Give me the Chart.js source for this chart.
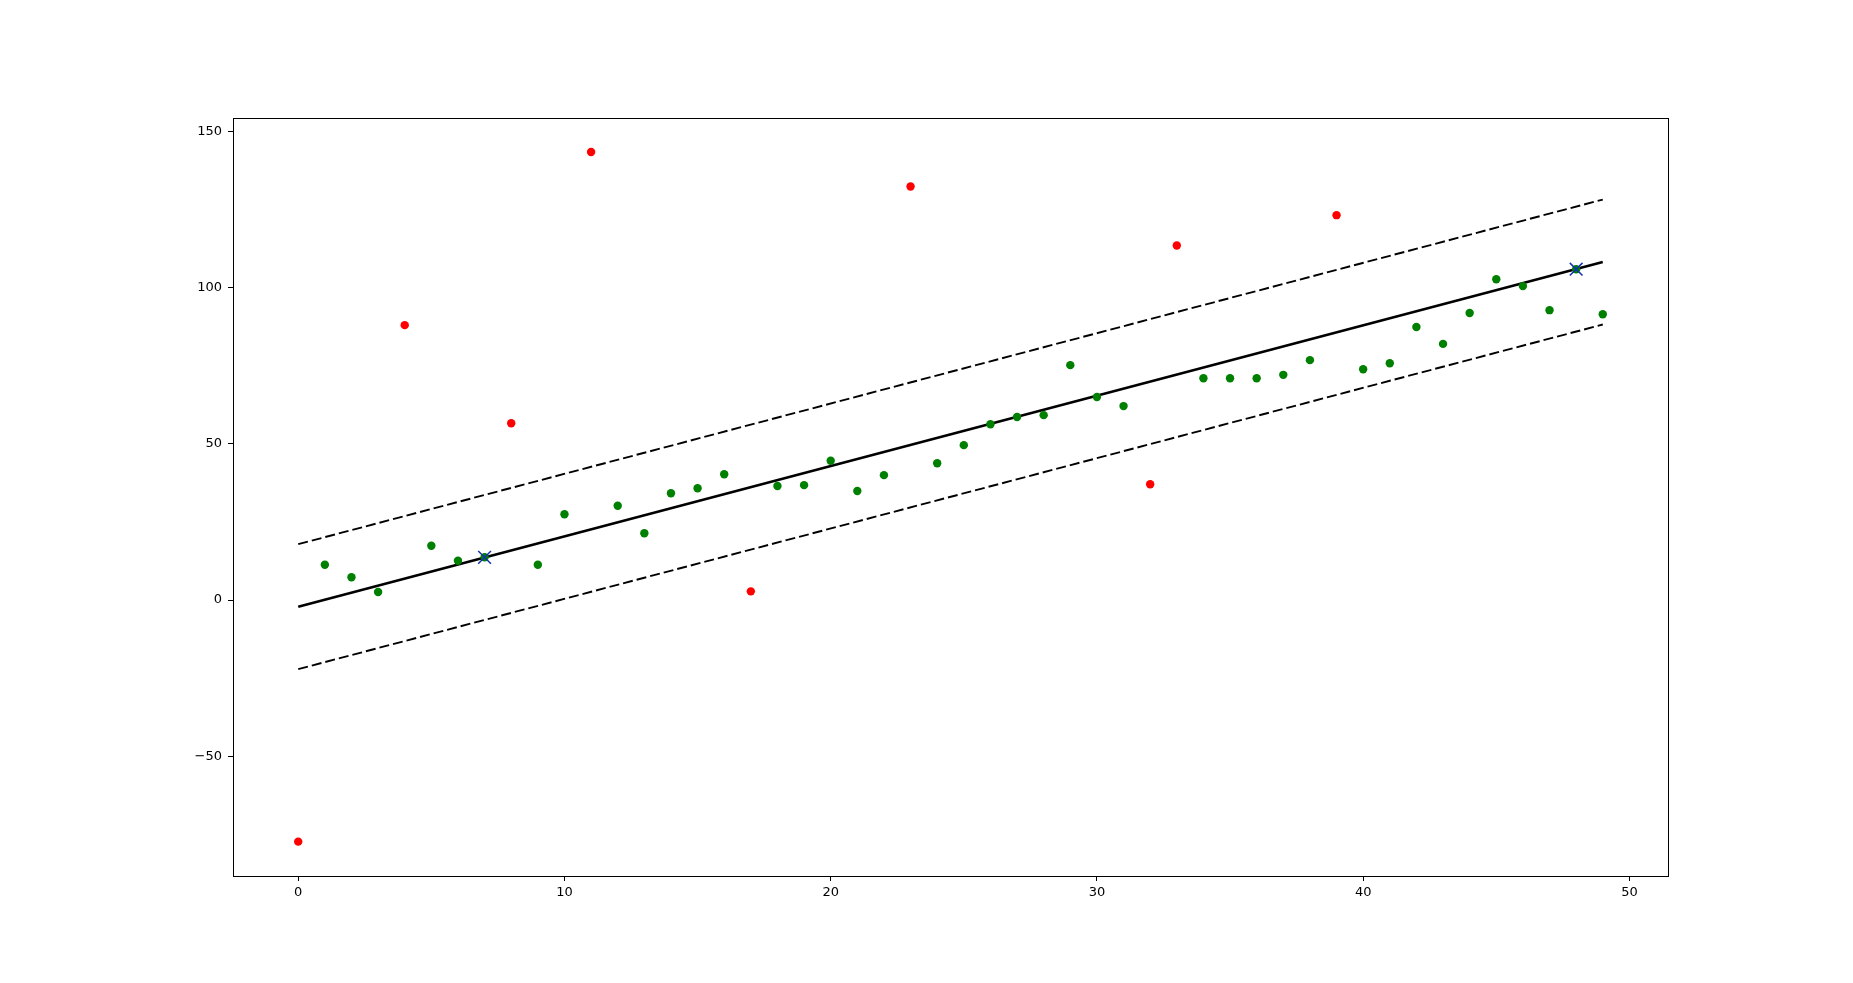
<!DOCTYPE html>
<html>
<head>
<meta charset="utf-8">
<script src="https://cdn.jsdelivr.net/npm/chart.js@4.4.1/dist/chart.umd.min.js"></script>
<style>
  body { margin: 0; background: #fff; }
  .chart-box { width: 1853px; height: 983px; }
</style>
</head>
<body>
<div class="chart-box"><canvas id="fit-chart"></canvas></div>
<script>
// inliers (green)
const inlierX = [1, 2, 3, 5, 6, 7, 9, 10, 12, 13, 14, 15, 16, 18, 19, 20, 21, 22, 24, 25, 26, 27, 28, 29, 30, 31,
  34, 35, 36, 37, 38, 40, 41, 42, 43, 44, 45, 46, 47, 48, 49];
const inlierY = [11.3, 7.3, 2.6, 17.4, 12.6, 13.7, 11.3, 27.5, 30.2, 21.4, 34.2, 35.8, 40.3, 36.5, 36.8, 44.6, 34.9, 40.0,
  43.8, 49.6, 56.3, 58.6, 59.2, 75.2, 65.0, 62.1, 71.0, 71.0, 71.0, 72.1, 76.8, 73.9, 75.8, 87.4, 82.0, 91.9,
  102.7, 100.5, 92.8, 105.9, 91.5];

// outliers (red)
const outlierX = [0, 4, 8, 11, 17, 23, 32, 33, 39];
const outlierY = [-77.3, 88.0, 56.6, 143.4, 2.8, 132.4, 37.1, 113.5, 123.2];

// the two sampled points (blue x)
const sampleX = [7, 48];
const sampleY = [13.7, 105.9];

// fitted line and threshold band
const lineX = [0, 49];
const fitY = [-2.1, 108.2];
const upperY = [17.9, 128.2];
const lowerY = [-22.1, 88.2];

const xTicks = [0, 10, 20, 30, 40, 50];
const yTicks = [-50, 0, 50, 100, 150];

const pts = (xs, ys) => xs.map((x, i) => ({ x: x, y: ys[i] }));

const frame = {
  id: 'frame',
  afterDraw(chart) {
    const a = chart.chartArea, ctx = chart.ctx;
    ctx.save();
    ctx.strokeStyle = '#000';
    ctx.lineWidth = 1;
    ctx.strokeRect(Math.round(a.left) + 0.5, Math.round(a.top) + 0.5,
      Math.round(a.right - a.left), Math.round(a.bottom - a.top));
    ctx.restore();
  }
};

Chart.defaults.font.family = 'DejaVu Sans';
Chart.defaults.font.size = 13;
Chart.defaults.color = '#000';

new Chart(document.getElementById('fit-chart'), {
  type: 'scatter',
  data: {
    datasets: [
      {
        label: 'sample',
        data: pts(sampleX, sampleY),
        pointStyle: 'crossRot',
        pointRadius: 9,
        borderColor: '#1530b0',
        backgroundColor: '#1530b0',
        pointBorderWidth: 1.5,
        order: 0
      },
      {
        label: 'inliers',
        data: pts(inlierX, inlierY),
        pointRadius: 4.2,
        backgroundColor: '#008000',
        borderColor: '#008000',
        pointBorderWidth: 0,
        order: 1
      },
      {
        label: 'outliers',
        data: pts(outlierX, outlierY),
        pointRadius: 4.2,
        backgroundColor: '#ff0000',
        borderColor: '#ff0000',
        pointBorderWidth: 0,
        order: 2
      },
      {
        type: 'line',
        label: 'fit',
        data: pts(lineX, fitY),
        borderColor: '#000',
        borderWidth: 2.6,
        pointRadius: 0,
        fill: false,
        order: 3
      },
      {
        type: 'line',
        label: 'upper',
        data: pts(lineX, upperY),
        borderColor: '#000',
        borderWidth: 1.9,
        borderDash: [10, 4],
        pointRadius: 0,
        fill: false,
        order: 4
      },
      {
        type: 'line',
        label: 'lower',
        data: pts(lineX, lowerY),
        borderColor: '#000',
        borderWidth: 1.9,
        borderDash: [10, 4],
        pointRadius: 0,
        fill: false,
        order: 5
      }
    ]
  },
  options: {
    responsive: true,
    maintainAspectRatio: false,
    animation: false,
    layout: { padding: { top: 118, right: 185, bottom: 0, left: 0 } },
    plugins: { legend: { display: false }, tooltip: { enabled: false } },
    scales: {
      x: {
        type: 'linear',
        min: -2.45,
        max: 51.45,
        afterBuildTicks: s => { s.ticks = xTicks.map(v => ({ value: v })); },
        afterFit: s => { s.height = 107; },
        ticks: { padding: 4, maxRotation: 0 },
        grid: { drawOnChartArea: false, tickLength: 5, color: '#000' },
        border: { color: '#000', width: 1 }
      },
      y: {
        type: 'linear',
        min: -88.3,
        max: 154.3,
        afterBuildTicks: s => { s.ticks = yTicks.map(v => ({ value: v })); },
        afterFit: s => { s.width = 233; },
        ticks: {
          padding: 6,
          callback: v => String(v).replace('-', '\u2212')
        },
        grid: { drawOnChartArea: false, tickLength: 5, color: '#000' },
        border: { color: '#000', width: 1 }
      }
    }
  },
  plugins: [frame]
});
</script>
</body>
</html>
